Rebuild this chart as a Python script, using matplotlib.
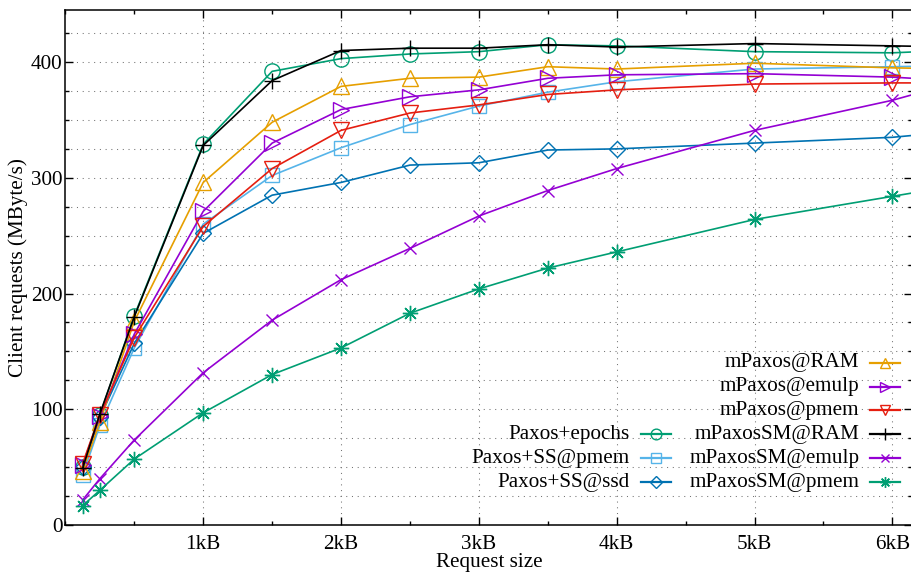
import numpy as np
import matplotlib
matplotlib.use("Agg")
from matplotlib import pyplot as plt
from matplotlib.lines import Line2D
from matplotlib.ticker import MultipleLocator, FixedLocator

plt.rcParams['font.family'] = ['Liberation Serif', 'DejaVu Serif']
plt.rcParams['font.size'] = 15.2

# request size in kB
sizes = [0.125, 0.25, 0.5, 1, 1.5, 2, 2.5, 3, 3.5, 4, 5, 6, 7]

paxos_epochs   = [50, 95, 181, 329, 392, 403, 407, 409, 415, 414, 409, 408, 413]
paxos_ss_pmem  = [43, 86, 153, 260, 302, 326, 346, 362, 374, 383, 394, 396, 398]
paxos_ss_ssd   = [50, 93, 157, 252, 285, 296, 311, 313, 324, 325, 330, 335, 346]
mpaxos_ram     = [47, 89, 176, 296, 348, 379, 386, 387, 396, 394, 399, 395, 393]
mpaxos_emulp   = [52, 94, 165, 271, 330, 359, 370, 376, 386, 389, 390, 387, 380]
mpaxos_pmem    = [53, 95, 162, 258, 308, 341, 356, 363, 372, 376, 381, 382, 382]
mpaxossm_ram   = [49, 96, 180, 328, 384, 410, 412, 412, 415, 413, 416, 414, 412]
mpaxossm_emulp = [21.6, 40, 73.5, 131.6, 177, 212, 239, 267, 289, 308, 341, 367, 400]
mpaxossm_pmem  = [16.7, 30, 57, 97, 130, 153, 183, 204, 222, 236, 264, 284, 304]

xtick_pos = [1, 2, 3, 4, 5, 6]
xtick_labels = ["1kB", "2kB", "3kB", "4kB", "5kB", "6kB"]

STAR = (8, 2, 0)

# (label, values, color, marker, markersize)
series = [
    ("Paxos+epochs", paxos_epochs, "#009E73", "o", 11),
    ("Paxos+SS@pmem", paxos_ss_pmem, "#56B4E9", "s", 10.5),
    ("Paxos+SS@ssd", paxos_ss_ssd, "#0072B2", "D", 8.5),
    ("mPaxos@RAM", mpaxos_ram, "#E69F00", "^", 11),
    ("mPaxos@emulp", mpaxos_emulp, "#9400D3", ">", 11),
    ("mPaxos@pmem", mpaxos_pmem, "#E51E10", "v", 11),
    ("mPaxosSM@RAM", mpaxossm_ram, "black", "+", 12),
    ("mPaxosSM@emulp", mpaxossm_emulp, "#9400D3", "x", 9),
    ("mPaxosSM@pmem", mpaxossm_pmem, "#009E73", STAR, 11),
]

W, H = 911, 572
fig = plt.figure(figsize=(W / 100, H / 100), dpi=100)
ax_l, ax_r, ax_t, ax_b = 65.4, 912.5, 10, 525
ax = fig.add_axes([ax_l / W, 1 - ax_b / H, (ax_r - ax_l) / W, (ax_b - ax_t) / H])

for name, vals, col, mk, ms in series:
    ax.plot(sizes, vals, color=col, marker=mk, markersize=ms, markerfacecolor='none',
            markeredgecolor=col, markeredgewidth=1.0, linewidth=1.2, label=name)

ax.set_xlim(0, 6.146)
ax.set_ylim(0, 445)

ax.xaxis.set_major_locator(FixedLocator(xtick_pos))
ax.set_xticklabels(xtick_labels)
ax.xaxis.set_minor_locator(MultipleLocator(0.5))
ax.yaxis.set_major_locator(MultipleLocator(100))
ax.yaxis.set_minor_locator(MultipleLocator(25))

ax.tick_params(which='both', direction='in', top=True, right=True, width=1.0)
ax.tick_params(which='major', length=6)
ax.tick_params(which='minor', length=3.2)
ax.tick_params(axis='x', pad=7.5)
ax.tick_params(axis='y', pad=2)

for sp in ax.spines.values():
    sp.set_linewidth(1.1)

ax.set_axisbelow(True)
grid_kw = dict(color='0.45', linestyle=(0, (1, 4.5)), linewidth=0.75)
ax.yaxis.grid(True, which='both', **grid_kw)
ax.xaxis.grid(True, which='major', **grid_kw)

ax.set_xlabel("Request size", labelpad=-0.8)
ax.set_ylabel("Client requests (MByte/s)", labelpad=2)

# key, two columns, text right-justified with sample on the right
def key_entry(text_right, y, name, col, mk, ms):
    fy = 1 - y / H
    fig.text(text_right / W, fy, name, ha='right', va='center')
    x0 = text_right + 11
    x1 = text_right + 41
    fig.add_artist(Line2D([x0 / W, x1 / W], [fy, fy], color=col, linewidth=1.6,
                          transform=fig.transFigure))
    fig.add_artist(Line2D([(x0 + x1) / 2 / W], [fy], color=col, marker=mk,
                          markersize=ms * 0.7, markerfacecolor='none',
                          markeredgewidth=1.0, linestyle='none',
                          transform=fig.transFigure))

right_rows = [362.7, 386.7, 410, 434.3, 458.3, 482.3]
left_rows = [434.3, 458.3, 482.3]
for (name, vals, col, mk, ms), y in zip(series[3:], right_rows):
    key_entry(859.3, y, name, col, mk, ms)
for (name, vals, col, mk, ms), y in zip(series[:3], left_rows):
    key_entry(630, y, name, col, mk, ms)

fig.savefig("out.png", dpi=100)
